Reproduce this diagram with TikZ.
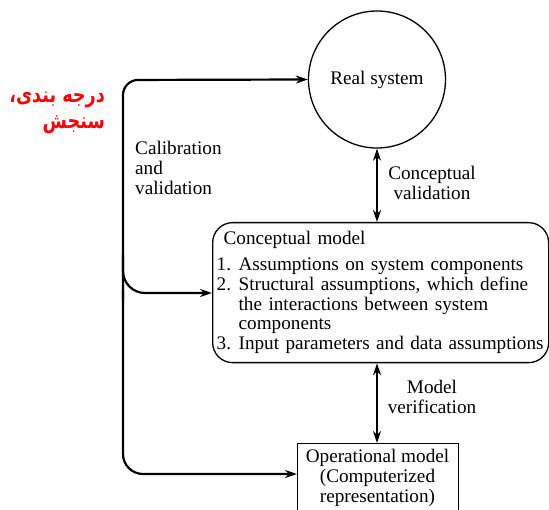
\documentclass[tikz,border=0pt]{standalone}
\usepackage{fontspec}
\setmainfont{Liberation Serif}
\newfontfamily\arabicfont[Script=Arabic]{DejaVu Sans}
\TeXXeTstate=1
\usetikzlibrary{arrows.meta,calc}
\begin{document}
\begin{tikzpicture}[x=1pt,y=-1pt,
  thk/.style={line width=2.2pt},
  thn/.style={line width=1.3pt},
  tip/.style={-{Stealth[length=12pt,width=8pt]}},
  dtip/.style={{Stealth[length=12pt,width=8pt]}-{Stealth[length=12pt,width=8pt]}},
  lbl/.style={font=\fontsize{19.2}{19.8}\selectfont, inner sep=0pt, align=center}]
\useasboundingbox (0,0) rectangle (549,510);
\clip (0,0) rectangle (549,510);

\node[draw, circle, thn, minimum size=137pt, inner sep=0pt, lbl] (real) at (377,79.5) {\raisebox{-1.5pt}{Real system}};

\node[draw, thn, rounded corners=20pt, anchor=north west, minimum width=336pt,
      minimum height=140pt, text width=328pt, inner xsep=4pt, inner ysep=0pt,
      align=left, font=\fontsize{19.2}{19.8}\selectfont] (concept) at (212,222)
  {\hspace*{7pt}Conceptual model\\[6pt]
   \mbox{\makebox[22pt][l]{1.}Assumptions on system components}\\
   \mbox{\makebox[22pt][l]{2.}Structural assumptions, which define}\\
   \mbox{\hspace*{22pt}the interactions between system}\\
   \mbox{\hspace*{22pt}components}\\
   \mbox{\makebox[22pt][l]{3.}Input parameters and data assumptions}};

\node[draw, thn, anchor=north west, minimum width=161pt, minimum height=90pt, inner sep=0pt] (opbox) at (297,443) {};
\node[lbl] (optext) at (377.5,478) {Operational model\\(Computerized\\representation)};

\draw[thk, dtip] (real.south) -- (real.south |- concept.north);
\draw[thk, dtip] (real.south |- concept.south) -- (real.south |- opbox.north);

\draw[thk, tip, rounded corners=15pt] (123,300) -- (123,80) -- (real.west);
\draw[thk, tip, rounded corners=20pt] (123,290) -- (123,474) -- (opbox.north west |- 0,474);
\draw[thk, tip, rounded corners=22pt] (123,255) -- (123,293) -- (concept.north west |- 0,293);

\node[lbl, align=left, anchor=west] (calib) at (135,168) {Calibration\\and\\validation};
\node[lbl] (cv) at (432,183) {Conceptual\\validation};
\node[lbl] (mv) at (432,397) {Model\\verification};

\node[text=red, anchor=east, inner sep=0pt] (fa) at (105,110)
  {\scalebox{0.8}[1]{\arabicfont\bfseries\fontsize{22}{26}\selectfont
   \begin{tabular}{@{}r@{}}\beginR درجه بندی،\endR\\\beginR سنجش\endR\end{tabular}}};
\end{tikzpicture}
\end{document}
